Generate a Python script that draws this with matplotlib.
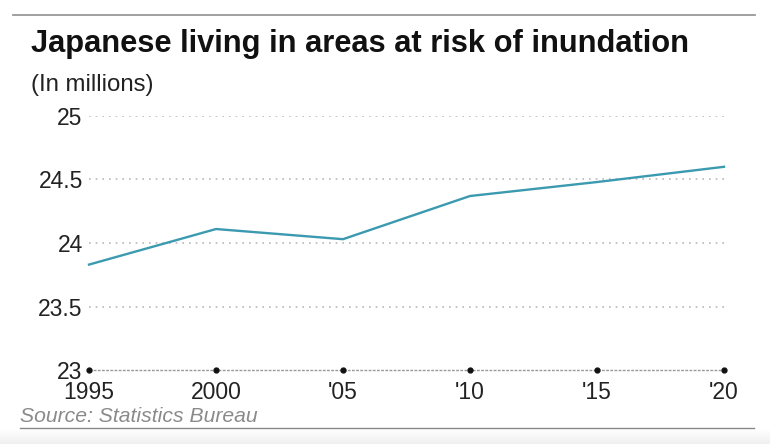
import matplotlib
matplotlib.use("Agg")
import matplotlib.pyplot as plt
from matplotlib.lines import Line2D
import numpy as np

years = [1995, 2000, 2005, 2010, 2015, 2020]
xlabels = ["1995", "2000", "'05", "'10", "'15", "'20"]
values = [23.83, 24.11, 24.03, 24.37, 24.48, 24.60]
yticks = [23, 23.5, 24, 24.5, 25]
ylabels = ["23", "23.5", "24", "24.5", "25"]

plt.rcParams['font.family'] = ['Liberation Sans', 'DejaVu Sans']

W, H = 770, 444
fig = plt.figure(figsize=(W / 100, H / 100), dpi=100)
fig.patch.set_facecolor('white')

def fx(px):
    return px / W

def fy(py):
    return 1 - py / H

# light gray gradient strip at the very bottom
grad = np.linspace(1.0, 0.94, 50).reshape(-1, 1)
bg = fig.add_axes([0, 0, 1, fy(430)])
bg.imshow(np.dstack([grad, grad, grad]), aspect='auto', extent=[0, 1, 0, 1])
bg.axis('off')

ax = fig.add_axes([fx(89), fy(370), fx(724) - fx(89), fy(116) - fy(370)])
ax.set_xlim(1995, 2020)
ax.set_ylim(23, 25)
ax.patch.set_alpha(0)
for s in ax.spines.values():
    s.set_visible(False)

for yv in yticks[1:]:
    ax.axhline(yv, color='#b8b8b8', lw=1.2, ls=(0, (1, 3)), zorder=1)
ax.axhline(23, color='#999999', lw=1.0, ls=(0, (2, 1)), zorder=2, clip_on=False)
ax.plot(years, [23] * len(years), ls='none', marker='o', ms=3.5, color='#111111', zorder=4, clip_on=False)

ax.plot(years, values, color='#3b9ab0', lw=1.7, zorder=3, clip_on=False)

ax.set_yticks(yticks)
ax.set_yticklabels(ylabels)
ax.set_xticks(years)
ax.set_xticklabels(xlabels)
ax.tick_params(axis='both', length=0, labelsize=16.5, colors='#222222')
ax.tick_params(axis='y', pad=4.5)
ax.tick_params(axis='x', pad=8)

# top and bottom rules
fig.add_artist(Line2D([fx(13), fx(755)], [fy(15), fy(15)], color='#999999', lw=1.3))
fig.add_artist(Line2D([fx(20), fx(754)], [fy(428), fy(428)], color='#888888', lw=1.0))

fig.text(fx(31), fy(52), "Japanese living in areas at risk of inundation",
         fontsize=22.2, fontweight='bold', color='#111111', va='baseline', ha='left')
fig.text(fx(31), fy(91), "(In millions)", fontsize=17.3, color='#222222', va='baseline', ha='left')
fig.text(fx(20), fy(422), "Source: Statistics Bureau", fontsize=15.2, color='#8a8a8a',
         style='italic', va='baseline', ha='left')

fig.savefig("out.png", dpi=100)
